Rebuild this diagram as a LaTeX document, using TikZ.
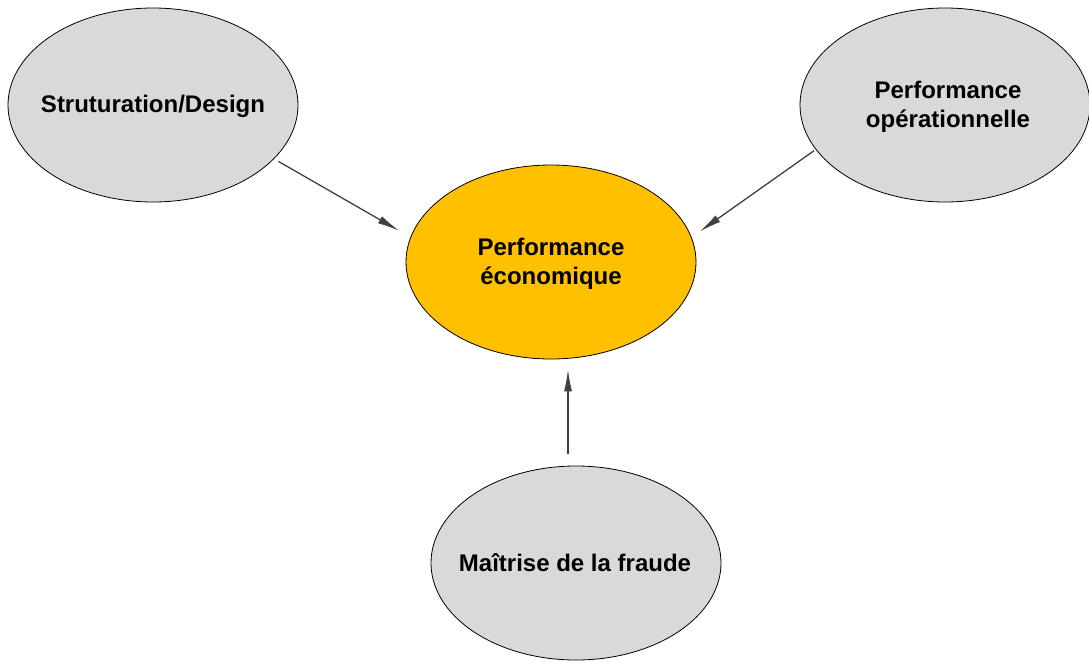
\documentclass[tikz,border=0pt]{standalone}
\usepackage{fontspec}
\setmainfont{Liberation Sans}
\usepackage{xcolor}
\usetikzlibrary{arrows.meta}
\usetikzlibrary{shapes.geometric, math}

\definecolor{gris}{HTML}{D9D9D9}
\definecolor{jaune}{HTML}{FFC000}
\definecolor{trait}{HTML}{404040}

\begin{document}
\begin{tikzpicture}[x=1pt,y=-1pt,
  bulle/.style={ellipse,draw=black,line width=0.8pt,fill=gris,inner sep=0pt,
    minimum width=\w pt,minimum height=\h pt},
  texte/.style={align=center,inner sep=0pt,font=\fontsize{24}{29}\selectfont\bfseries},
  fleche/.style={draw=trait,line width=1.3pt,-{Latex[length=22pt,width=8pt]}}]
\tikzmath{
\w=290;
\h=194;
}
\useasboundingbox (0,0) rectangle (1089,662);

\node[bulle] (design) at (153,105) {};
\node[bulle] (opera) at (945,105) {};
\node[bulle,fill=jaune] (eco) at (551,262) {};
\node[bulle] (fraude) at (576,563) {};

\node[texte] (design-t) at ([yshift=-1pt]design.center) {Struturation/Design};
\node[texte] (opera-t) at ([xshift=3pt,yshift=-2pt]opera.center) {Performance\\opérationnelle};
\node[texte] (eco-t) at ([yshift=-2pt]eco.center) {Performance\\économique};
\node[texte] (fraude-t) at ([xshift=-1pt,yshift=0pt]fraude.center) {Maîtrise de la fraude};

\draw[fleche,shorten <=5pt,shorten >=13pt] (design.-24) -- (eco.170.5);
\draw[fleche,shorten <=2pt,shorten >=10pt] (opera.-161) -- (eco.10.7);
\draw[fleche,shorten <=12pt,shorten >=10pt] ([xshift=-8pt]fraude.north) -- ([xshift=-8pt]fraude.north |- eco.south);

\end{tikzpicture}
\end{document}
